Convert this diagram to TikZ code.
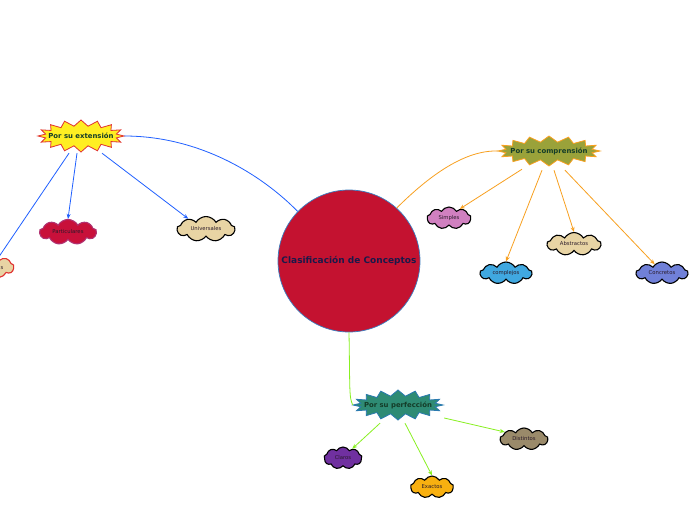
\documentclass[tikz,border=0pt]{standalone}
\usepackage{fontspec}
\setmainfont{DejaVu Sans}
\usetikzlibrary{shapes.symbols,arrows.meta,calc}
\definecolor{crimson}{HTML}{C41230}
\definecolor{circline}{HTML}{3A7DC0}
\definecolor{navytext}{HTML}{1A1A4A}
\definecolor{bursttext}{HTML}{143C28}
\definecolor{yellowfill}{HTML}{FFEE22}
\definecolor{redline}{HTML}{E03030}
\definecolor{olivefill}{HTML}{9AA23A}
\definecolor{orangeline}{HTML}{F8A020}
\definecolor{tealfill}{HTML}{2E8B74}
\definecolor{tealline}{HTML}{2A7AB0}
\definecolor{blueline}{HTML}{2060FF}
\definecolor{greenline}{HTML}{88F020}
\definecolor{tanfill}{HTML}{E8D4A4}
\definecolor{partfill}{HTML}{C8103A}
\definecolor{partline}{HTML}{B03070}
\definecolor{orchidfill}{HTML}{D080C0}
\definecolor{skyfill}{HTML}{40A8E0}
\definecolor{periwinkle}{HTML}{7080D8}
\definecolor{purplefill}{HTML}{7030A0}
\definecolor{goldfill}{HTML}{F8B010}
\definecolor{khakifill}{HTML}{9A8A6A}
\definecolor{cloudtext}{HTML}{2A1A2A}
% star outline: cx, cy, rx, ry, fill, draw
\newcommand\burstshape[6]{%
  \draw[line width=0.8pt, fill=#5, draw=#6, line join=miter]
    plot[samples at={0,...,31}, variable=\k]
    ({#1+((mod(\k,2)==0) ? #3 : #3-7)*cos(\k*11.25)},
     {#2+((mod(\k,2)==0) ? #4 : #4-6)*sin(\k*11.25)}) -- cycle;}
\begin{document}
\begin{tikzpicture}[x=1pt,y=-1pt,
  burst/.style={rectangle, inner sep=0pt,
    font=\fontsize{6.9}{8}\selectfont\bfseries, text=bursttext},
  puff/.style={cloud, cloud puffs=9, cloud puff arc=120, aspect=2.5, line width=1.1pt,
    draw=black, inner sep=0pt, font=\fontsize{5.3}{6}\selectfont, text=cloudtext},
  conn/.style={line width=0.8pt},
  tip/.style={-{Stealth[length=5pt,width=4pt]}}
]
\useasboundingbox (0,0) rectangle (696,520);
\clip (0,0) rectangle (696,520);
\fill[white] (0,0) rectangle (696,520);

% central node
\node[circle, draw=circline, fill=crimson, line width=0.7pt, minimum size=142pt, inner sep=0pt,
  font=\fontsize{9}{10}\selectfont\bfseries, text=navytext] (c) at (349,261) {Clasificación de Conceptos};

% main branches
\burstshape{81}{136}{43}{16}{yellowfill}{redline}
\node[burst, minimum width=86pt, minimum height=32pt] (ext) at (81,136) {Por su extensión};
\burstshape{549}{151}{51}{15}{olivefill}{orangeline}
\node[burst, minimum width=102pt, minimum height=30pt] (comp) at (549,151) {Por su comprensión};
\burstshape{398}{405}{45}{15}{tealfill}{tealline}
\node[burst, minimum width=90pt, minimum height=30pt] (perf) at (398,405) {Por su perfección};

% leaves
\node[puff, fill=tanfill, draw=redline, minimum width=44pt, minimum height=22pt] (sing) at (-8,267) {};
\node[font=\fontsize{5.3}{6}\selectfont, text=cloudtext, inner sep=0pt] (singtxt) at (2,268) {s};
\node[puff, fill=partfill, draw=partline, minimum width=57pt, minimum height=22pt] (part) at (68,232) {Particulares};
\node[puff, fill=tanfill, minimum width=58pt, minimum height=22pt] (univ) at (206,229) {Universales};
\node[puff, fill=orchidfill, minimum width=44pt, minimum height=22pt] (simp) at (449,218) {Simples};
\node[puff, fill=skyfill, minimum width=52pt, minimum height=22pt] (compl) at (506,273) {complejos};
\node[puff, fill=tanfill, minimum width=54pt, minimum height=22pt] (abst) at (574,244) {Abstractos};
\node[puff, fill=periwinkle, minimum width=52pt, minimum height=22pt] (conc) at (662,273) {Concretos};
\node[puff, fill=purplefill, minimum width=38pt, minimum height=22pt] (clar) at (343,458) {Claros};
\node[puff, fill=goldfill, minimum width=43pt, minimum height=22pt] (exac) at (432,487) {Exactos};
\node[puff, fill=khakifill, minimum width=48pt, minimum height=22pt] (dist) at (524,439) {Distintos};

% connectors from center
\draw[conn, blueline] (ext.east) .. controls (200,136) and (262,175) .. (c.136);
\draw[conn, orangeline] (c.48) .. controls (430,175) and (465,150) .. (comp.west);
\draw[conn, greenline] (c.south) .. controls (350,390) and (349,398) .. (perf.west);

% extension branch
\draw[conn, blueline] ($(ext.south)+(-12,1)$) -- (sing);
\draw[conn, blueline, tip] ($(ext.south)+(-4,1)$) -- (part.north);
\draw[conn, blueline, tip] ($(ext.south)+(21,1)$) -- (univ.150);

% comprehension branch
\draw[conn, orangeline, tip] ($(comp.south)+(-27,3)$) -- (simp.40);
\draw[conn, orangeline, tip] ($(comp.south)+(-7,4)$) -- (compl.north);
\draw[conn, orangeline, tip] ($(comp.south)+(5,4)$) -- (abst.north);
\draw[conn, orangeline, tip] ($(comp.south)+(16,4)$) -- (conc.130);

% perfection branch
\draw[conn, greenline, tip] ($(perf.south)+(-18,3)$) -- (clar.45);
\draw[conn, greenline, tip] ($(perf.south)+(7,3)$) -- (exac.north);
\draw[conn, greenline, tip] ($(perf.east)+(1,13)$) -- (dist.160);
\end{tikzpicture}
\end{document}
